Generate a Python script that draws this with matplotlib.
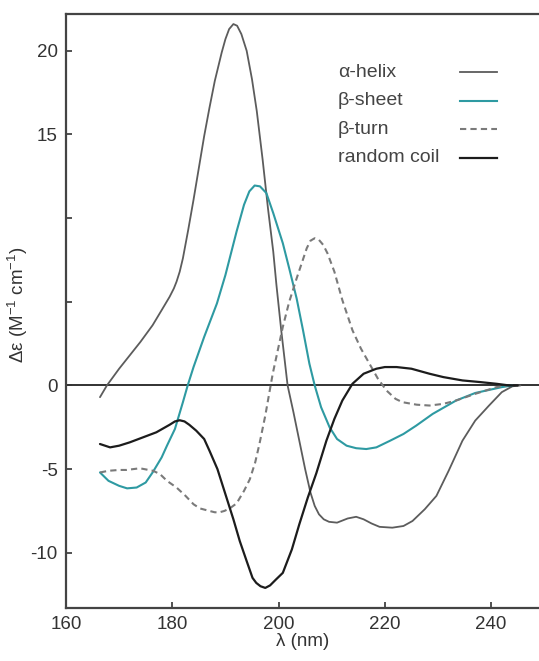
import numpy as np
import matplotlib
matplotlib.use("Agg")
import matplotlib.pyplot as plt

plt.rcParams["font.family"] = ["Liberation Sans", "DejaVu Sans"]
plt.rcParams["mathtext.fontset"] = "custom"
plt.rcParams["mathtext.rm"] = "Liberation Sans"
plt.rcParams["mathtext.it"] = "Liberation Sans:italic"


# CD spectra (wavelength nm, delta epsilon)

helix_nm = [166.4, 167.7, 170, 172, 174, 176.3, 178, 179.5, 180.3, 180.8, 181.4, 182,
            183, 184, 185, 186, 187, 188, 189.3, 190, 190.7, 191.5, 192.2, 193, 194,
            195, 195.9, 197, 198, 199, 199.6, 200.5, 201.7, 202.8, 203.9, 205, 206,
            206.8, 207.6, 208.5, 209.5, 211, 213, 214.6, 216, 217.5, 219, 221.4, 223.5,
            225.2, 227.5, 229.7, 232, 234.6, 237, 239.6, 242, 244, 245.5]
helix_de = [-0.7, 0.0, 1.0, 1.8, 2.6, 3.6, 4.5, 5.3, 5.8, 6.2, 6.8, 7.6,
            9.3, 11.1, 13.0, 14.9, 16.6, 18.2, 19.9, 20.7, 21.3, 21.6, 21.5, 21.0, 20.0,
            18.3, 16.4, 13.5, 10.6, 8.0, 6.0, 3.3, 0.0, -1.6, -3.3, -5.0, -6.4,
            -7.2, -7.7, -8.0, -8.15, -8.2, -7.95, -7.85, -8.0, -8.25, -8.45, -8.5, -8.4,
            -8.1, -7.4, -6.6, -5.1, -3.3, -2.1, -1.2, -0.4, -0.05, 0.0]

sheet_nm = [166.4, 168, 170, 171.5, 173.3, 175, 176.3, 178, 179, 180.5, 182, 182.9,
            184, 186, 188.4, 190, 192.1, 193.5, 194.5, 195.5, 196.5, 197.7, 199, 200.8,
            202, 203.4, 204.6, 205.8, 206.8, 208, 209.6, 211, 212.8, 214.6, 216.5,
            218.4, 221, 223.5, 225.9, 229, 233.4, 237, 242, 244]
sheet_de = [-5.2, -5.7, -6.0, -6.15, -6.1, -5.8, -5.2, -4.3, -3.6, -2.6, -1.0, 0.0,
            1.1, 2.9, 4.9, 6.6, 9.2, 10.8, 11.6, 11.95, 11.9, 11.5, 10.3, 8.5,
            7.0, 5.2, 3.3, 1.3, 0.0, -1.3, -2.5, -3.2, -3.6, -3.75, -3.8,
            -3.7, -3.3, -2.9, -2.4, -1.7, -0.9, -0.45, -0.1, 0.0]

turn_nm = [166.4, 168, 170, 171.4, 173.9, 176.4, 177.7, 179, 180.8, 182.5, 184, 185.2,
           187, 188, 188.9, 189.8, 190.8, 192.1, 193.5, 194.6, 195.6, 196.4, 197.5,
           198.9, 200.8, 202, 203.4, 205.3, 206, 206.8, 207.6, 208.4, 209.2, 210.5,
           212, 213.9, 215.5, 217.1, 218.7, 220.3, 222, 223.3, 226, 228.4, 231, 233.4,
           237, 241, 243]
turn_de = [-5.2, -5.1, -5.05, -5.05, -4.95, -5.1, -5.3, -5.7, -6.1, -6.6, -7.1, -7.35,
           -7.5, -7.58, -7.58, -7.5, -7.35, -7.05, -6.3, -5.6, -4.6, -3.5, -1.8,
           0.7, 3.5, 5.0, 6.4, 8.2, 8.65, 8.8, 8.7, 8.4, 7.9, 6.8,
           5.1, 3.3, 2.2, 1.3, 0.4, -0.3, -0.8, -1.0, -1.15, -1.2, -1.1, -0.9,
           -0.5, -0.1, 0.0]

coil_nm = [166.4, 168.3, 170, 172, 174.5, 177, 179.5, 180.5, 181.4, 182.3, 183.2,
           184.5, 186, 187, 188.5, 190.2, 191.5, 192.7, 194, 195.1, 195.8, 196.6,
           197.5, 198.4, 199.5, 200.8, 202.5, 203.9, 205.5, 207.1, 209, 210.5, 212,
           213.9, 216, 218.4, 220, 222.2, 225, 228.4, 231, 234.6, 238, 241, 243.4, 245]
coil_de = [-3.5, -3.7, -3.6, -3.4, -3.1, -2.8, -2.35, -2.15, -2.08, -2.15, -2.35,
           -2.7, -3.2, -3.9, -5.0, -6.7, -8.0, -9.3, -10.5, -11.5, -11.8, -12.0,
           -12.1, -11.95, -11.6, -11.2, -9.8, -8.3, -6.7, -5.25, -3.3, -2.0, -0.9,
           0.1, 0.7, 1.0, 1.1, 1.1, 1.0, 0.7, 0.5, 0.3, 0.2, 0.1, 0.0, 0.0]

series_labels = ["α-helix", "β-sheet", "β-turn", "random coil"]

x_ticks = [160, 180, 200, 220, 240]
y_ticks = [-10, -5, 0, 5, 10, 15, 20]
y_tick_labels = ["-10", "-5", "0", "", "", "15", "20"]


fig = plt.figure(figsize=(5.39, 6.61), dpi=100, facecolor="white")
ax = fig.add_axes([0.1224, 0.0802, 0.8776, 0.8986])

ax.axhline(0, color="#222222", linewidth=1.3, zorder=1)

styles = [
    dict(color="#5c5c5c", linewidth=1.3, linestyle="-"),
    dict(color="#2e9aa2", linewidth=1.5, linestyle="-"),
    dict(color="#7a7a7a", linewidth=1.5, linestyle=(0, (3, 2))),
    dict(color="#1c1c1c", linewidth=1.6, linestyle="-"),
]
curves = [(helix_nm, helix_de), (sheet_nm, sheet_de), (turn_nm, turn_de), (coil_nm, coil_de)]

for (xs, ys), style in zip(curves, styles):
    ax.plot(xs, ys, solid_joinstyle="round", solid_capstyle="round", zorder=3, **style)

ax.set_xlim(160, 249)
ax.set_ylim(-13.3, 22.2)

ax.set_xticks(x_ticks)
ax.set_yticks(y_ticks)
ax.set_yticklabels(y_tick_labels)
ax.tick_params(direction="in", length=4, width=1.2, colors="#333333",
               labelsize=13.5, labelcolor="#333333")
ax.tick_params(axis="x", pad=6)
ax.tick_params(axis="y", pad=6)

for side in ["left", "top", "bottom"]:
    ax.spines[side].set_linewidth(1.6)
    ax.spines[side].set_color("#444444")
ax.spines["right"].set_visible(False)

ax.set_xlabel("λ (nm)", fontsize=13.5, color="#333333", labelpad=0)
ax.set_ylabel("Δε (M$^{-1}$ cm$^{-1}$)", fontsize=13.5, color="#333333")
ax.yaxis.set_label_coords(-0.075, 0.51)

# Legend: labels left-aligned, line samples to the right
row_top = 0.902
row_step = 0.048
for i, (label, style) in enumerate(zip(series_labels, styles)):
    y = row_top - i * row_step
    ax.text(0.575, y, label, transform=ax.transAxes, fontsize=14, color="#444444",
            ha="left", va="center")
    ax.plot([0.833, 0.911], [y, y], transform=ax.transAxes, **style)

plt.savefig("out.png", dpi=100, facecolor="white")
